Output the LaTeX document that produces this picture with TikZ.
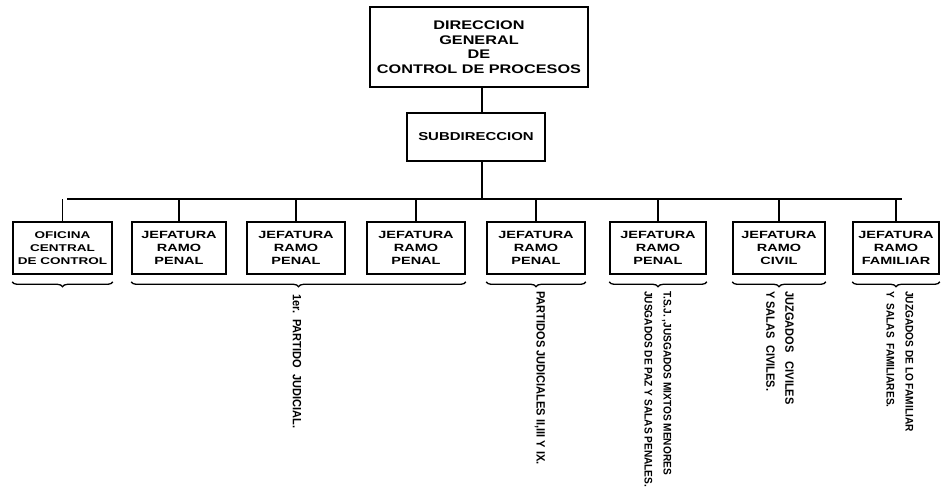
\documentclass[tikz,border=0pt]{standalone}
\usepackage{fontspec}
\setmainfont{Liberation Sans}
\newfontfamily\boxfont[FakeStretch=1.38]{Liberation Sans}
\newfontfamily\topfont[FakeStretch=1.3]{Liberation Sans}
\newfontfamily\labfont[FakeStretch=0.92]{Liberation Sans}
\usetikzlibrary{decorations.pathreplacing}
\begin{document}
\begin{tikzpicture}[x=1pt,y=-1pt,
  box/.style={draw,line width=1.6pt,inner sep=0pt,align=center,
    font=\boxfont\bfseries\fontsize{10.5}{13}\selectfont},
  bigbox/.style={box,font=\topfont\bfseries\fontsize{12.5}{14.5}\selectfont},
  conn/.style={line width=1.5pt},
  brc/.style={line width=1.3pt,decorate,decoration={brace,mirror,amplitude=5pt}},
  lab/.style={rotate=-90,anchor=west,inner sep=0pt,align=left,
    font=\labfont\bfseries\fontsize{12}{19}\selectfont},
  smalllab/.style={lab,font=\labfont\bfseries\fontsize{11}{19}\selectfont}]
\useasboundingbox (0,0) rectangle (943,491);
\fill[white] (0,0) rectangle (943,491);

\node[bigbox,minimum width=218pt,minimum height=80pt] (dg) at (479,47)
  {DIRECCION\\GENERAL\\DE\\CONTROL DE PROCESOS};
\node[box,font=\topfont\bfseries\fontsize{11.5}{13.5}\selectfont,
  minimum width=138pt,minimum height=48pt] (sub) at (476,137) {SUBDIRECCION};

\coordinate (busL) at (67,199);
\coordinate (busR) at (902,199);
\coordinate (busM) at (482,199);

\draw[conn] (dg.south -| busM) -- (sub.north -| busM);
\draw[conn] (sub.south -| busM) -- (busM);
\draw[conn] (busL) -- (busR);

\node[box,font=\boxfont\bfseries\fontsize{9.8}{13}\selectfont,
  minimum width=99pt,minimum height=52pt] (ofi) at (62.5,248) {OFICINA\\CENTRAL\\DE CONTROL};
\node[box,minimum width=94pt,minimum height=52pt] (j1) at (179,248) {JEFATURA\\RAMO\\PENAL};
\node[box,minimum width=98pt,minimum height=52pt] (j2) at (296,248) {JEFATURA\\RAMO\\PENAL};
\node[box,minimum width=98pt,minimum height=52pt] (j3) at (416,248) {JEFATURA\\RAMO\\PENAL};
\node[box,minimum width=98pt,minimum height=52pt] (j4) at (536,248) {JEFATURA\\RAMO\\PENAL};
\node[box,minimum width=96pt,minimum height=52pt] (j5) at (658,248) {JEFATURA\\RAMO\\PENAL};
\node[box,minimum width=92pt,minimum height=52pt] (civ) at (779,248) {JEFATURA\\RAMO\\CIVIL};
\node[box,minimum width=86pt,minimum height=52pt] (fam) at (896,248) {JEFATURA\\RAMO\\FAMILIAR};

\foreach \n in {ofi,j1,j2,j3,j4,j5,civ,fam}
  \draw[conn] (\n.north) -- (\n.north |- busL);

\draw[brc] ([yshift=-7pt]ofi.south west) -- ([yshift=-7pt]ofi.south east);
\draw[brc] ([yshift=-7pt]j1.south west) -- ([yshift=-7pt]j3.south east);
\draw[brc] ([yshift=-7pt]j4.south west) -- ([yshift=-7pt]j4.south east);
\draw[brc] ([yshift=-7pt]j5.south west) -- ([yshift=-7pt]j5.south east);
\draw[brc] ([yshift=-7pt]civ.south west) -- ([yshift=-7pt]civ.south east);
\draw[brc] ([yshift=-7pt]fam.south west) -- ([yshift=-7pt]fam.south east);

\node[lab] (l1) at (297,294) {1er.\ \ PARTIDO\ \ JUDICIAL.};
\node[lab] (l2) at (540,291) {PARTIDOS JUDICIALES II,III Y IX.};
\node[smalllab] (l3) at (658,291) {T.S.J. ,JUSGADOS MIXTOS MENORES\\JUSGADOS DE PAZ Y SALAS PENALES.};
\node[lab] (l4) at (780,291) {JUZGADOS\ \ \ CIVILES\\Y SALAS\ \ CIVILES.};
\node[smalllab] (l5) at (900,291) {JUZGADOS DE LO FAMILIAR\\Y\ \ SALAS\ \ FAMILIARES.};
\end{tikzpicture}
\end{document}
